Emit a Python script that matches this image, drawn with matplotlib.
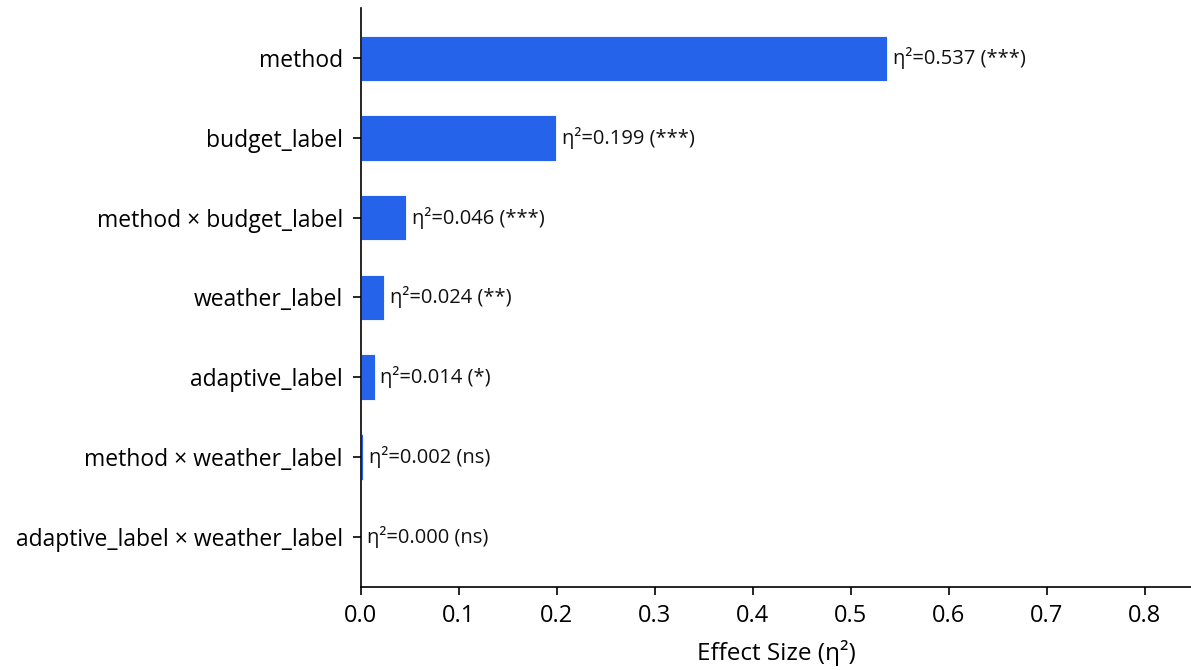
import matplotlib.pyplot as plt

# 効果量（η²）の横棒グラフ
plt.rcParams["font.family"] = ["Open Sans", "DejaVu Sans"]

factors = [
    "method",
    "budget_label",
    "method × budget_label",
    "weather_label",
    "adaptive_label",
    "method × weather_label",
    "adaptive_label × weather_label",
]
eta_sq = [0.537, 0.199, 0.046, 0.024, 0.014, 0.002, 0.000]
signif = ["***", "***", "***", "**", "*", "ns", "ns"]

fig = plt.figure(figsize=(11.91, 6.70), dpi=100)
ax = fig.add_axes([0.303, 0.124, 0.697, 0.864])

y = list(range(len(factors)))
ax.barh(y, eta_sq, height=0.57, color="#2563eb", edgecolor="white", linewidth=0.6)

# 棒の右に値と有意水準を表示
for yi, v, s in zip(y, eta_sq, signif):
    ax.text(v + 0.006, yi, f"η²={v:.3f} ({s})", va="center", ha="left",
            fontsize=14.5, color="#111111")

ax.set_yticks(y)
ax.set_yticklabels(factors, fontsize=16.5)
ax.invert_yaxis()
ax.set_xlim(0, 0.847)
ax.set_ylim(6.63, -0.63)
ax.set_xticks([0.0, 0.1, 0.2, 0.3, 0.4, 0.5, 0.6, 0.7, 0.8])
ax.tick_params(axis="x", labelsize=17, length=6, width=1.2, pad=6)
ax.tick_params(axis="y", length=6, width=1.2, pad=7)
ax.set_xlabel("Effect Size (η²)", fontsize=17.5, labelpad=9)

ax.spines["top"].set_visible(False)
ax.spines["right"].set_visible(False)
ax.spines["left"].set_linewidth(1.2)
ax.spines["bottom"].set_linewidth(1.2)

fig.savefig("out.png")
plt.close(fig)
